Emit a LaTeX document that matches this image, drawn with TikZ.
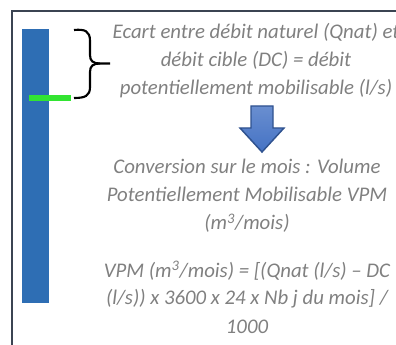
\documentclass[tikz,border=0pt]{standalone}
\usepackage{fontspec}
\setmainfont{Carlito}

\definecolor{framegray}{RGB}{59,68,82}
\definecolor{barblue}{RGB}{46,110,180}
\definecolor{levelgreen}{RGB}{50,228,50}
\definecolor{arrowblue}{RGB}{68,114,196}
\definecolor{arrowline}{RGB}{47,82,143}
\definecolor{notegray}{RGB}{128,128,128}

\tikzset{every picture/.style={line width=0.75pt}}
\tikzset{note/.style={anchor=base, align=center, inner sep=0pt, color=notegray,
  font=\itshape\fontsize{15.6}{21}\selectfont}}

\begin{document}
\begin{tikzpicture}[x=0.75pt,y=0.75pt,yscale=-1,xscale=1]
	\useasboundingbox (0,0) rectangle (396,345);

	%Straight Lines (frame)
	\draw [color=framegray, line width=1.5] (396,11.5) -- (11.5,11.5) -- (11.5,345) ;
	%Shape: Rectangle
	\fill [barblue] (22,29) rectangle (49,303) ;
	%Straight Lines
	\draw [color=levelgreen, line width=4.5] (29,98) -- (71,98) ;
	%Shape: Brace
	\draw [line width=1.6] (74,30) .. controls (85,29) and (90,31) .. (90,41) -- (90,55) .. controls (90,61) and (93,63.5) .. (100,63.5) -- (110,63.5) ;
	\draw [line width=1.6] (100,63.5) .. controls (93,63.5) and (90,66) .. (90,72) -- (90,87) .. controls (90,96) and (85,98) .. (74,98) ;
	%Shape: Down Arrow
	\shadedraw [draw=arrowline, line width=1.1, top color=arrowblue!80!white, bottom color=arrowblue] (251,106) -- (273,106) -- (273,128) -- (284,128) -- (262,152) -- (240,128) -- (251,128) -- cycle ;

	% Text Node (anchored on its last line)
	\node [note] (ecart) at (256,95) {Ecart entre débit naturel (Qnat) et\\débit cible (DC) = débit\\potentiellement mobilisable (l/s)};
	% Text Node
	\node [note] (conversion) at (247,230) {Conversion sur le mois : Volume\\Potentiellement Mobilisable VPM\\(m\textsuperscript{3}/mois)};
	% Text Node
	\node [note] (formule) at (247,333) {VPM (m\textsuperscript{3}/mois) = [(Qnat (l/s) – DC\\(l/s)) x 3600 x 24 x Nb j du mois] /\\1000};

\end{tikzpicture}
\end{document}
